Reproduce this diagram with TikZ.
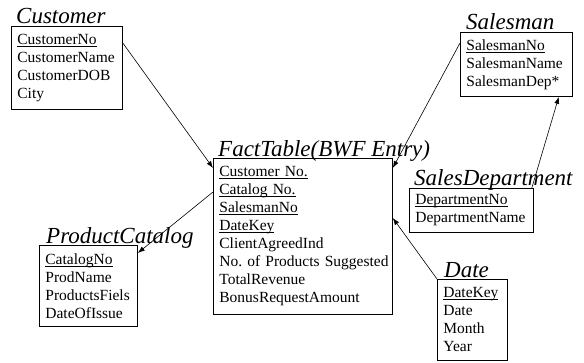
\documentclass[tikz,border=0pt]{standalone}
\usepackage{fontspec}
\setmainfont{Liberation Serif}
\usepackage{tikz}
\usetikzlibrary{arrows.meta}

% key attribute, underlined close to the baseline
\newcommand{\keyattr}[1]{\leavevmode\setbox0\hbox{#1}\rlap{\rule[-2.2pt]{\wd0}{0.7pt}}\box0}

\tikzset{
	entity/.style={draw, line width=0.8pt, anchor=north west, align=left,
		inner xsep=6pt, inner ysep=3pt,
		font=\fontsize{15.5}{18}\selectfont\frenchspacing},
	etitle/.style={anchor=base west, inner sep=0pt,
		font=\fontsize{23}{26}\selectfont\itshape},
	link/.style={line width=0.6pt, -{Latex[length=7pt, width=5pt]}}
}

\begin{document}
\begin{tikzpicture}[x=1pt, y=-1pt]
		\useasboundingbox (0,0) rectangle (584,362);
		% customer
		\node[entity, text width=99pt, minimum height=83pt] (customer) at (11,26)
		{\keyattr{CustomerNo}\\CustomerName\\CustomerDOB\\City};
		\node[etitle] (customerTitle) at ([xshift=5pt, yshift=3pt]customer.north west) {Customer};
		% salesman
		\node[entity, text width=100pt, minimum height=64pt] (salesman) at (460,32)
		{\keyattr{SalesmanNo}\\SalesmanName\\SalesmanDep*};
		\node[etitle] (salesmanTitle) at ([xshift=6pt, yshift=3pt]salesman.north west) {Salesman};
		% fact table
		\node[entity, text width=167pt, minimum height=156pt] (fact) at (213,158)
		{\keyattr{Customer No.}\\\keyattr{Catalog No.}\\\keyattr{SalesmanNo}\\\keyattr{DateKey}\\
		ClientAgreedInd\\\mbox{No. of Products Suggested}\\TotalRevenue\\BonusRequestAmount};
		\node[etitle] (factTitle) at ([xshift=5pt, yshift=2pt]fact.north west) {FactTable(BWF Entry)};
		% sales department
		\node[entity, text width=112pt, minimum height=44pt] (dept) at (409,188)
		{\keyattr{DepartmentNo}\\DepartmentName};
		\node[etitle] (deptTitle) at ([xshift=5pt, yshift=3pt]dept.north west) {SalesDepartment};
		% date
		\node[entity, text width=58pt, minimum height=81pt] (date) at (437,279)
		{\keyattr{DateKey}\\Date\\Month\\Year};
		\node[etitle] (dateTitle) at ([xshift=7pt, yshift=2pt]date.north west) {Date};
		% product catalog
		\node[entity, text width=86pt, minimum height=81pt] (catalog) at (39,245)
		{\keyattr{CatalogNo}\\ProdName\\ProductsFiels\\DateOfIssue};
		\node[etitle] (catalogTitle) at ([xshift=7pt, yshift=2pt]catalog.north west) {ProductCatalog};
		% links
		\draw[link] ([yshift=-17pt]customer.north east) -- ([yshift=-10pt]fact.north west);
		\draw[link] ([yshift=-34pt]fact.north west) -- ([yshift=-8pt]catalog.north east);
		\draw[link] ([yshift=-11pt]salesman.north west) -- ([yshift=-10pt]fact.north east);
		\draw[link] ([xshift=-2pt]dept.north east) -- ([xshift=-14pt]salesman.south east);
		\draw[link] (date.north west) -- ([yshift=-60pt]fact.north east);
	\end{tikzpicture}
\end{document}
